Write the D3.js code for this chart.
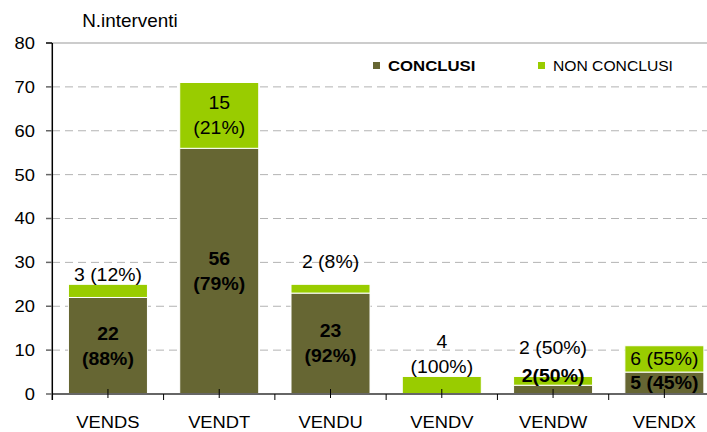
<!DOCTYPE html>
<html>
<head>
<meta charset="utf-8">
<script src="https://cdn.jsdelivr.net/npm/d3@7"></script>
<style>
body { margin: 0; background: #fff; }
text { font-family: "Liberation Sans", Arial, sans-serif; fill: #000; }
</style>
</head>
<body>
<div id="vis"></div>
<script>
const categories = ["VENDS", "VENDT", "VENDU", "VENDV", "VENDW", "VENDX"];
const conclusi = [22, 56, 23, 0, 2, 5];
const nonConclusi = [3, 15, 2, 4, 2, 6];
const conclusiLabels = [["22", "(88%)"], ["56", "(79%)"], ["23", "(92%)"], [], ["2(50%)"], ["5 (45%)"]];
const nonConclusiLabels = [["3 (12%)"], ["15", "(21%)"], ["2 (8%)"], ["4", "(100%)"], ["2 (50%)"], ["6 (55%)"]];
const yTicks = [0, 10, 20, 30, 40, 50, 60, 70, 80];

const W = 707, H = 432;
const DARK = "#666633", LIGHT = "#99cc00";
const SX = 1.08; // text looks a bit wide in the source

const svg = d3.select("#vis").append("svg")
	.attr("width", W)
	.attr("height", H);

const x = d3.scaleBand()
	.domain(categories)
	.range([52.3, 720])
	.paddingInner(0.29)
	.paddingOuter(0.145);

const y = d3.scaleLinear()
	.domain([0, 80])
	.range([394, 43]);

const place = (sel, px, py) => sel.attr("transform", `translate(${px},${py}) scale(${SX},1)`);

// grid
svg.append("g")
	.selectAll("line")
	.data(yTicks.filter(t => t > 0 && t < 80))
	.join("line")
	.attr("x1", 52).attr("x2", W)
	.attr("y1", d => y(d)).attr("y2", d => y(d))
	.attr("stroke", "#b3b3b3")
	.attr("stroke-width", 1)
	.attr("stroke-dasharray", "8,5");

svg.append("line")
	.attr("x1", 52).attr("x2", W)
	.attr("y1", y(80)).attr("y2", y(80))
	.attr("stroke", "#999")
	.attr("stroke-width", 1.2);

// bars
const rows = categories.map((c, i) => ({ c, i, a: conclusi[i], b: nonConclusi[i] }));

const bars = svg.append("g");
bars.selectAll("rect.conc")
	.data(rows.filter(d => d.a > 0))
	.join("rect")
	.attr("class", "conc")
	.attr("x", d => x(d.c))
	.attr("width", x.bandwidth())
	.attr("y", d => y(d.a))
	.attr("height", d => y(0) - y(d.a))
	.attr("fill", DARK)
	.attr("stroke", "#fff")
	.attr("stroke-width", 1);

bars.selectAll("rect.non")
	.data(rows)
	.join("rect")
	.attr("class", "non")
	.attr("x", d => x(d.c))
	.attr("width", x.bandwidth())
	.attr("y", d => y(d.a + d.b))
	.attr("height", d => y(d.a) - y(d.a + d.b))
	.attr("fill", LIGHT)
	.attr("stroke", "#fff")
	.attr("stroke-width", 1);

// axes
svg.append("line")
	.attr("x1", 52).attr("x2", W)
	.attr("y1", y(0)).attr("y2", y(0))
	.attr("stroke", "#666")
	.attr("stroke-width", 2);

svg.append("line")
	.attr("x1", 52.3).attr("x2", 52.3)
	.attr("y1", y(80)).attr("y2", 400)
	.attr("stroke", "#000")
	.attr("stroke-width", 1.5);

const yAxis = svg.append("g");
yAxis.selectAll("line")
	.data(yTicks)
	.join("line")
	.attr("x1", 46).attr("x2", 52)
	.attr("y1", d => y(d)).attr("y2", d => y(d))
	.attr("stroke", d => d === 80 ? "#000" : "#666")
	.attr("stroke-width", 1.5);
yAxis.selectAll("text")
	.data(yTicks)
	.join("text")
	.attr("text-anchor", "end")
	.attr("dy", "0.35em")
	.style("font-size", "17px")
	.text(d => d)
	.each(function (d) { place(d3.select(this), 35, y(d)); });

// x ticks: category boundaries and centres
const step = x.step();
const gap = step - x.bandwidth();
svg.append("g").selectAll("line")
	.data(categories)
	.join("line")
	.attr("x1", d => x(d) + x.bandwidth() + gap / 2)
	.attr("x2", d => x(d) + x.bandwidth() + gap / 2)
	.attr("y1", y(0)).attr("y2", 400)
	.attr("stroke", "#000")
	.attr("stroke-width", 1);
svg.append("g").selectAll("line")
	.data(categories)
	.join("line")
	.attr("x1", d => x(d) + x.bandwidth() / 2)
	.attr("x2", d => x(d) + x.bandwidth() / 2)
	.attr("y1", y(0) - 5).attr("y2", y(0) + 4)
	.attr("stroke", "#000")
	.attr("stroke-width", 1);

svg.append("g").selectAll("text")
	.data(categories)
	.join("text")
	.attr("text-anchor", "middle")
	.attr("dy", "0.35em")
	.style("font-size", "17px")
	.text(d => d)
	.each(function (d) { place(d3.select(this), x(d) + x.bandwidth() / 2, 422); });

// axis title
place(svg.append("text")
	.attr("text-anchor", "middle")
	.attr("dy", "0.35em")
	.style("font-size", "17.5px")
	.text("N.interventi"), 130, 21);

// value labels
const LINE = 25;
const labels = svg.append("g");
const drawLines = (lines, cx, cy, bold) => {
	const n = lines.length;
	lines.forEach((t, k) => {
		place(labels.append("text")
			.attr("text-anchor", "middle")
			.attr("dy", "0.35em")
			.style("font-size", "18px")
			.style("font-weight", bold ? "bold" : "normal")
			.text(t), cx, cy + (k - (n - 1) / 2) * LINE);
	});
};

rows.forEach(d => {
	const cx = x(d.c) + x.bandwidth() / 2;
	// conclusi label: centred in the segment, lifted when the segment is too small
	const cl = conclusiLabels[d.i];
	let concTop = null;
	if (cl.length) {
		const segH = y(0) - y(d.a);
		let cy = (y(0) + y(d.a)) / 2;
		if (segH < 12) cy = y(d.a + d.b) - 1;
		drawLines(cl, cx, cy, true);
		concTop = cy - (cl.length * LINE) / 2;
	}
	// non conclusi label: inside if it fits, above the bar otherwise
	const nl = nonConclusiLabels[d.i];
	const segH = y(d.a) - y(d.a + d.b);
	const blockH = nl.length * LINE;
	if (segH >= blockH - 5 || (segH > 20 && nl.length === 1)) {
		drawLines(nl, cx, (y(d.a) + y(d.a + d.b)) / 2, false);
	} else {
		let bottom = y(d.a + d.b) - 10;
		if (concTop !== null && concTop < bottom + 12) bottom = concTop - 15;
		if (d.c === "VENDU") bottom -= 13;
		drawLines(nl, cx, bottom - (nl.length - 1) * LINE / 2, false);
	}
});

// legend
const legend = svg.append("g");
[["CONCLUSI", DARK, "bold", 373, 15.5], ["NON CONCLUSI", LIGHT, "normal", 538, 14.5]].forEach(([name, col, fw, lx, fs]) => {
	legend.append("rect")
		.attr("x", lx).attr("y", 62)
		.attr("width", 7).attr("height", 7)
		.attr("fill", col);
	place(legend.append("text")
		.attr("dy", "0.35em")
		.style("font-size", fs + "px")
		.style("font-weight", fw)
		.text(name), lx + 15, 65.5);
});
</script>
</body>
</html>
